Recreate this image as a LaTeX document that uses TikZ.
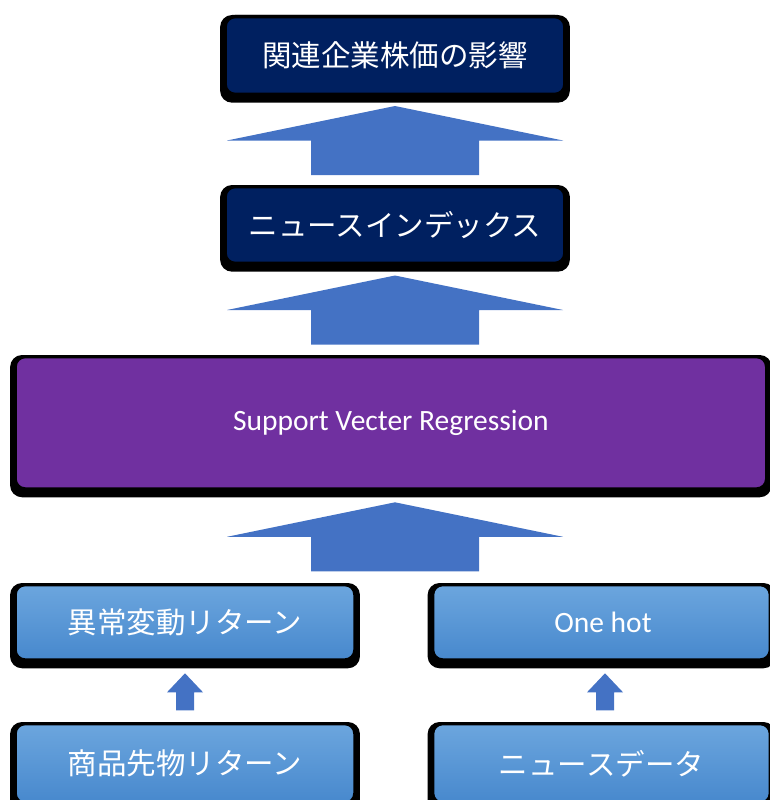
\documentclass[tikz,border=0pt]{standalone}
\usepackage{fontspec}
\setmainfont{Carlito}
\newfontfamily\jp{Noto Sans CJK JP}
\usetikzlibrary{backgrounds,calc}
\definecolor{navy}{HTML}{002060}
\definecolor{svrpurple}{HTML}{7030A0}
\definecolor{arrowblue}{HTML}{4472C4}
\definecolor{lbtop}{HTML}{6CA6DE}
\definecolor{lbbot}{HTML}{4788CD}
\tikzset{
  bigarrow/.pic={\fill[arrowblue] (0,-34.5) -- (168,0) -- (84,0) -- (84,34.5) -- (-84,34.5) -- (-84,0) -- (-168,0) -- cycle;},
  smallarrow/.pic={\fill[arrowblue] (0,-18.5) -- (18,0.5) -- (9,0.5) -- (9,18.5) -- (-9,18.5) -- (-9,0.5) -- (-18,0.5) -- cycle;},
  box/.style={draw=black, line width=3.3pt, rounded corners=10pt, text=white, inner sep=0pt,
    font=\fontsize{29.5}{34}\selectfont},
  darkbox/.style={box, fill=navy, minimum width=339.7pt},
  svrbox/.style={box, fill=svrpurple},
  lightbox/.style={box, top color=lbtop, bottom color=lbbot},
  boxshadow/.style={fill=black, rounded corners=12pt}
}
\begin{document}
\begin{tikzpicture}[x=1pt,y=-1pt]
\useasboundingbox (0,0) rectangle (769,800);
\node[darkbox, minimum height=77.7pt] (A) at (395,55.5) {\jp 関連企業株価の影響};
\node[darkbox, minimum height=76.7pt] (B) at (395,225) {\jp ニュースインデックス};
\node[svrbox, minimum width=751.5pt, minimum height=132.3pt] (S) at (390.9,422.8) {\raisebox{-3pt}{Support Vecter Regression}};
\node[lightbox, minimum width=339.8pt, minimum height=75.3pt] (L1) at (185,622.3) {\jp 異常変動リターン};
\node[lightbox, minimum width=339.8pt, minimum height=79.7pt] (L2) at (185,763.5) {\jp 商品先物リターン};
\node[lightbox, minimum width=337.7pt, minimum height=75.3pt] (R1) at (601.5,622.3) {\hspace*{3pt}One hot};
\node[lightbox, minimum width=337.7pt, minimum height=79.7pt] (R2) at (601.5,763.5) {\jp ニュースデータ};
\begin{scope}[on background layer]
  \foreach \n in {A,B,S,L1,L2,R1,R2}
    \fill[boxshadow] ([xshift=-3.4pt]\n.north west) rectangle ([xshift=3.4pt,yshift=-6.7pt]\n.south east);
\end{scope}
\pic at ($(A.south)!0.5!(B.north)$) {bigarrow};
\pic at ($(B.south)!0.5!(A.south |- S.north)$) {bigarrow};
\pic at ($(A.south |- S.south)!0.5!(A.south |- L1.north)$) {bigarrow};
\pic at ($(L1.south)!0.5!(L2.north)$) {smallarrow};
\pic at ($(R1.south)!0.5!(R2.north)+(3.5,0)$) {smallarrow};
\end{tikzpicture}
\end{document}
